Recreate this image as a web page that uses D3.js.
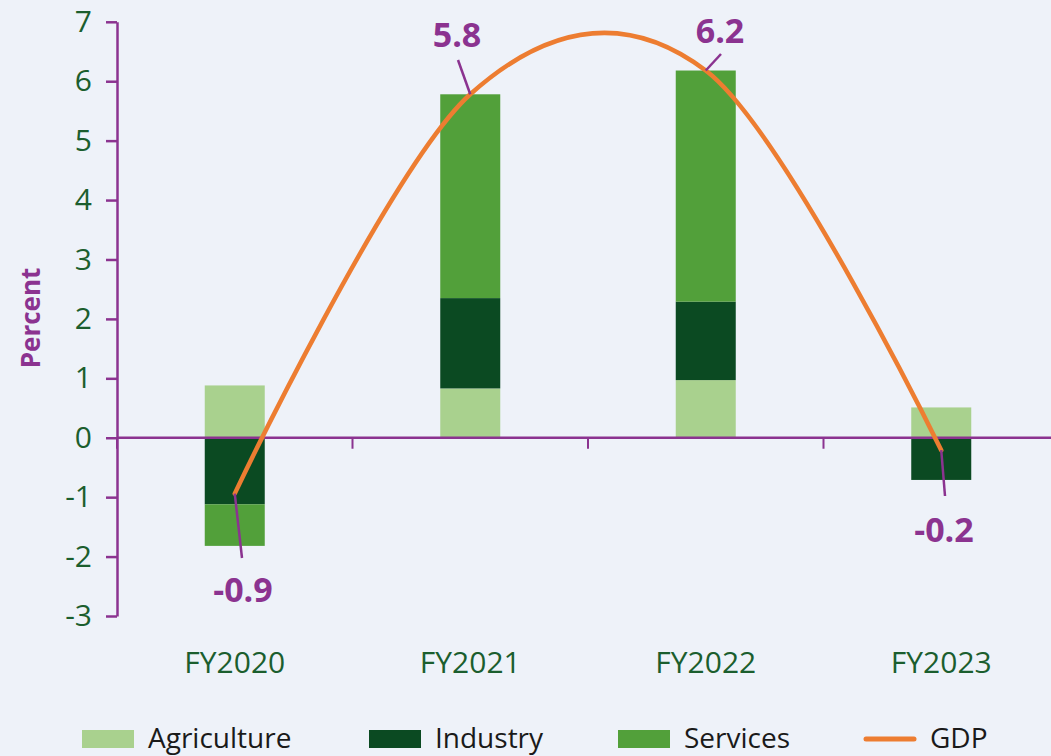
<!DOCTYPE html>
<html>
<head>
<meta charset="utf-8">
<script src="https://cdn.jsdelivr.net/npm/d3@7"></script>
<style>
  body { margin: 0; background: #eef2f9; }
  svg { display: block; font-family: "Open Sans", "Noto Sans", sans-serif; }
</style>
</head>
<body>
<svg id="chart" width="1051" height="756"></svg>
<script>
// data
const years = ['FY2020', 'FY2021', 'FY2022', 'FY2023'];
const agriculture = [0.88, 0.83, 0.97, 0.51];
const industry = [-1.12, 1.52, 1.32, -0.71];
const services = [-0.70, 3.43, 3.89, 0.0];
const gdp = [-0.94, 5.78, 6.18, -0.21];
const yTicks = [-3, -2, -1, 0, 1, 2, 3, 4, 5, 6, 7];

const colors = {
  Agriculture: '#a9d18e',
  Industry: '#0b4a22',
  Services: '#52a03a',
  GDP: '#ed7d31'
};
const purple = '#8b3390';
const tickGreen = '#1b5e2e';

const svg = d3.select('#chart');

const x = d3.scaleBand().domain(years).range([117, 1059]);
const y = d3.scaleLinear().domain([-3, 7]).range([616, 21.8]);
const barW = 60;

// stack bars: positives stack upward, negatives downward
let series = [
  {name: 'Agriculture', values: agriculture},
  {name: 'Industry', values: industry},
  {name: 'Services', values: services}
];
let rects = [];
years.forEach(function(yr, i) {
  let pos = 0, neg = 0;
  series.forEach(function(s) {
    let v = s.values[i];
    if (v === 0) return;
    let y0, y1;
    if (v > 0) { y0 = pos; y1 = pos + v; pos = y1; }
    else { y0 = neg + v; y1 = neg; neg = y0; }
    rects.push({year: yr, name: s.name, y0: y0, y1: y1});
  });
});

svg.append('g').selectAll('rect')
  .data(rects)
  .enter().append('rect')
  .attr('x', d => x(d.year) + x.bandwidth() / 2 - barW / 2)
  .attr('width', barW)
  .attr('y', d => y(d.y1))
  .attr('height', d => y(d.y0) - y(d.y1))
  .attr('fill', d => colors[d.name]);

// y axis
let yAxis = svg.append('g')
  .attr('transform', 'translate(117,0)')
  .call(d3.axisLeft(y).tickValues(yTicks).tickFormat(d => String(d))
    .tickSize(11).tickSizeOuter(0).tickPadding(14));
yAxis.select('.domain').attr('stroke', purple).attr('stroke-width', 2.5);
yAxis.selectAll('.tick line').attr('stroke', purple).attr('stroke-width', 2.5);
yAxis.selectAll('.tick text')
  .attr('fill', tickGreen)
  .attr('font-size', 30)
  .attr('font-family', '"Open Sans", sans-serif');

// x axis along zero
let xAxisG = svg.append('g');
xAxisG.append('line')
  .attr('x1', 117).attr('x2', 1059)
  .attr('y1', y(0)).attr('y2', y(0))
  .attr('stroke', purple).attr('stroke-width', 2.5);
xAxisG.selectAll('line.sep')
  .data(years)
  .enter().append('line')
  .attr('class', 'sep')
  .attr('x1', d => x(d)).attr('x2', d => x(d))
  .attr('y1', y(0)).attr('y2', y(0) + 11)
  .attr('stroke', purple).attr('stroke-width', 2);
xAxisG.selectAll('text')
  .data(years)
  .enter().append('text')
  .attr('x', d => x(d) + x.bandwidth() / 2)
  .attr('y', 673)
  .attr('text-anchor', 'middle')
  .attr('fill', tickGreen)
  .attr('font-size', 30)
  .text(d => d);

// y axis title
svg.append('text')
  .attr('transform', 'translate(40,' + 318 + ') rotate(-90)')
  .attr('text-anchor', 'middle')
  .attr('fill', purple)
  .attr('font-size', 26)
  .attr('font-weight', 'bold')
  .text('Percent');

// GDP line
let pts = years.map((yr, i) => [x(yr) + x.bandwidth() / 2, y(gdp[i])]);
svg.append('path')
  .datum(pts)
  .attr('d', d3.line().curve(d3.curveCardinal.tension(0)))
  .attr('fill', 'none')
  .attr('stroke', colors.GDP)
  .attr('stroke-width', 4.5)
  .attr('stroke-linecap', 'round');

// data labels with leader lines
const labelPos = [[243, 602], [457, 47], [720, 43], [944, 542]];
const leaderEnd = [[242, 558], [458, 60], [721, 54], [945, 496]];
pts.forEach(function(p, i) {
  svg.append('line')
    .attr('x1', p[0]).attr('y1', p[1])
    .attr('x2', leaderEnd[i][0]).attr('y2', leaderEnd[i][1])
    .attr('stroke', purple).attr('stroke-width', 2.5);
  svg.append('text')
    .attr('x', labelPos[i][0]).attr('y', labelPos[i][1])
    .attr('text-anchor', 'middle')
    .attr('fill', purple)
    .attr('font-size', 34)
    .attr('font-weight', 'bold')
    .text(gdp[i].toFixed(1));
});

// legend
const legendItems = ['Agriculture', 'Industry', 'Services', 'GDP'];
const legendX = [82, 369, 618, 864];
let lg = svg.append('g');
legendItems.forEach(function(name, i) {
  if (name === 'GDP') {
    lg.append('line')
      .attr('x1', legendX[i] + 2).attr('x2', legendX[i] + 50)
      .attr('y1', 739).attr('y2', 739)
      .attr('stroke', colors.GDP).attr('stroke-width', 5)
      .attr('stroke-linecap', 'round');
  } else {
    lg.append('rect')
      .attr('x', legendX[i]).attr('y', 730)
      .attr('width', 52).attr('height', 18)
      .attr('fill', colors[name]);
  }
  lg.append('text')
    .attr('x', legendX[i] + 66).attr('y', 748)
    .attr('fill', '#1a1a1a')
    .attr('font-size', 28)
    .text(name);
});
</script>
</body>
</html>
